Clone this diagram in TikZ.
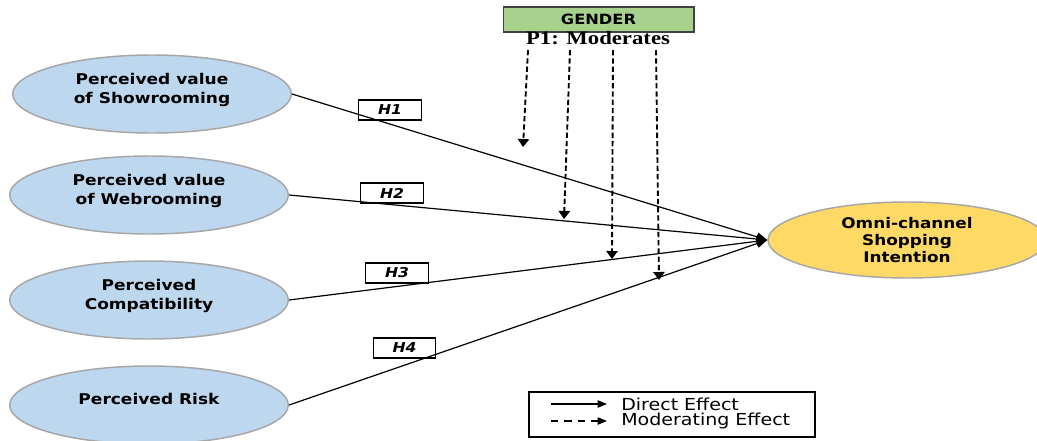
\documentclass[tikz,border=0pt]{standalone}
\usepackage{fontspec}
\setsansfont{DejaVu Sans}[FakeStretch=1.15]
\newfontfamily\ponefont{Liberation Serif}[FakeStretch=1.2]
\usetikzlibrary{shapes.geometric,arrows.meta}
\definecolor{constructfill}{HTML}{BDD7EE}
\definecolor{outcomefill}{HTML}{FFD966}
\definecolor{genderfill}{HTML}{A9D18E}
\definecolor{ellipseline}{HTML}{A6A6A6}
\begin{document}
\begin{tikzpicture}[x=0.75pt,y=-0.75pt,
  latent/.style={ellipse,draw=ellipseline,line width=1.1pt,
    minimum width=209pt,minimum height=58.5pt,inner sep=0pt,align=center},
  construct/.style={latent,fill=constructfill,text depth=9pt,
    font=\sffamily\bfseries\fontsize{11.1}{14.2}\selectfont},
  outcome/.style={latent,fill=outcomefill,minimum width=208.5pt,minimum height=57pt,
    font=\sffamily\bfseries\fontsize{11}{12.7}\selectfont},
  hbox/.style={draw,line width=0.8pt,minimum width=47pt,minimum height=15pt,inner sep=0pt,
    font=\sffamily\bfseries\itshape\fontsize{10.2}{10}\selectfont},
  direct/.style={line width=0.9pt,-{Triangle[length=8pt,width=6.5pt]}},
  moder/.style={line width=1.4pt,dash pattern=on 4pt off 2.2pt,-{Triangle[length=6pt,width=8.5pt]}},
  legtext/.style={anchor=west,inner sep=0pt,font=\sffamily\fontsize{12.4}{13}\selectfont}]
% bounding box of the whole figure, 1037 x 440
\useasboundingbox (0,0) rectangle (1037,440);
% constructs
\node[construct] (show) at (152,94) {Perceived value\\of Showrooming};
\node[construct] (web) at (149,195) {Perceived value\\of Webrooming};
\node[construct] (compat) at (149,300) {Perceived\\Compatibility};
\node[construct] (risk) at (149,405) {Perceived Risk};
\node[outcome] (omni) at (907,240) {Omni-channel\\Shopping\\Intention};
% direct effects
\draw[direct] (show.east) -- (omni.west);
\draw[direct] (web.east) -- (omni.west);
\draw[direct] (compat.east) -- (omni.west);
\draw[direct] (risk.east) -- (omni.west);
\node[hbox] (h1) at (390,110) {H1};
\node[hbox] (h2) at (392,193) {H2};
\node[hbox] (h3) at (397,273) {H3};
\node[hbox] (h4) at (404.5,348) {H4};
% moderator
\node[draw=black!75,line width=1pt,fill=genderfill,minimum width=143pt,minimum height=18.75pt,
  inner sep=0pt,font=\sffamily\bfseries\fontsize{10.6}{11}\selectfont] (gender) at (598.5,19.5) {GENDER};
\node[font=\ponefont\bfseries\fontsize{14.2}{15}\selectfont,inner sep=0pt] (p1) at (598,38) {P1: Moderates};
\coordinate (m1) at (528,50);
\coordinate (m2) at (570,50);
\coordinate (m3) at (613,50);
\coordinate (m4) at (656,50);
\coordinate (t1) at (523,147);
\coordinate (t2) at (564,219);
\coordinate (t3) at (612,259);
\coordinate (t4) at (659,280);
\draw[moder] (m1) -- (t1);
\draw[moder] (m2) -- (t2);
\draw[moder] (m3) -- (t3);
\draw[moder] (m4) -- (t4);
% legend
\node[draw,line width=1.1pt,minimum width=214.5pt,minimum height=33.75pt,inner sep=0pt] (legend) at (672,414.5) {};
\node[legtext] (ldirect) at (621,404) {Direct Effect};
\node[legtext] (lmoder) at (621,421) {Moderating Effect};
\coordinate (ld1) at (551,404);
\coordinate (ld2) at (607,404);
\coordinate (lm1) at (551,421);
\coordinate (lm2) at (607,421);
\draw[line width=0.9pt,-{Triangle[length=7pt,width=5.5pt]}] (ld1) -- (ld2);
\draw[line width=0.9pt,dash pattern=on 5.5pt off 4.5pt,-{Triangle[length=7pt,width=5.5pt]}] (lm1) -- (lm2);
\end{tikzpicture}
\end{document}
